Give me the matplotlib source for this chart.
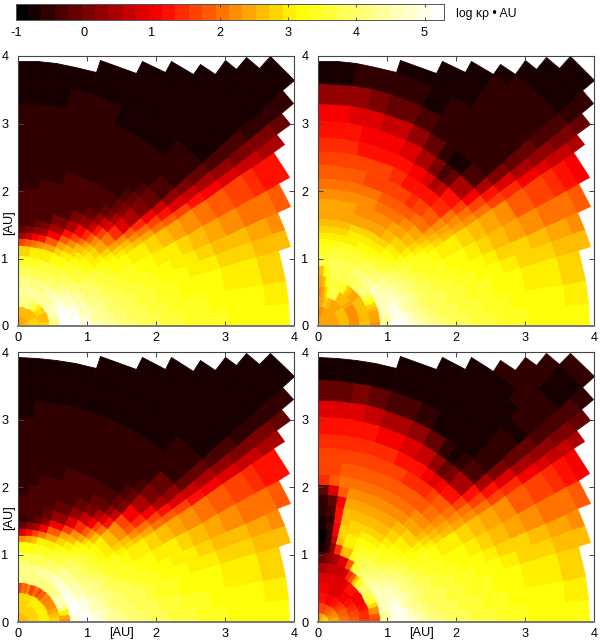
import numpy as np
import matplotlib
matplotlib.use('Agg')
import matplotlib.pyplot as plt
from matplotlib.colors import ListedColormap, BoundaryNorm, LinearSegmentedColormap

plt.rcParams['font.family'] = ['Liberation Sans', 'DejaVu Sans']
plt.rcParams['axes.unicode_minus'] = False

# Grid of the map: angle (deg from the equator) and radius (AU)
theta_edges = [0, 5, 10, 16.7, 20.5, 24.2, 29.3, 34.9, 37.2, 39.7, 42.4, 47.6, 50.3,
               52.7, 55.8, 60.5, 65.5, 73.3, 78, 82, 86, 90]
radius_edges = [0, .15, .3, .45, .6, .75, .9, 1.05, 1.2, 1.3, 1.4, 1.5, 1.6, 1.75, 1.9, 2.05,
                2.2, 2.4, 2.6, 2.8, 3.05, 3.3, 3.6, 3.93, 4.12, 4.32, 4.51, 4.7, 4.95, 5.18, 5.41]

# log kappa rho AU, one list per angular sector, inner radius first
panel_a = [
 [2.7,2.8,2.8,4.0,5.2,5.2,4.9,4.6,4.5,4.4,4.2,4.1,4.0,3.9,3.8,3.7,3.6,3.5,3.4,3.4,3.3,3.3,3.2],
 [2.7,2.8,2.8,4.3,5.2,5.1,4.8,4.5,4.4,4.3,4.1,4.0,3.9,3.8,3.7,3.6,3.5,3.4,3.4,3.3,3.3,3.2,3.1],
 [2.7,2.8,2.7,4.5,5.2,5.0,4.7,4.4,4.3,4.1,4.0,3.9,3.8,3.7,3.6,3.5,3.4,3.3,3.2,3.2,3.1,3.0,2.9],
 [2.7,2.8,2.7,4.6,5.1,4.9,4.6,4.3,4.2,4.0,3.9,3.8,3.7,3.6,3.5,3.4,3.3,3.2,3.1,3.0,2.9,2.8,2.7,2.6],
 [2.7,2.8,2.7,4.6,5.0,4.8,4.5,4.2,4.1,3.9,3.8,3.7,3.6,3.5,3.4,3.3,3.2,3.1,3.0,2.9,2.7,2.6,2.4,2.3],
 [2.7,2.8,2.7,4.7,4.9,4.7,4.4,4.1,4.0,3.8,3.7,3.6,3.5,3.4,3.3,3.2,3.1,3.0,2.8,2.7,2.5,2.3,2.1,2.0,1.8],
 [2.6,2.7,2.8,4.7,4.8,4.6,4.3,4.0,3.8,3.7,3.6,3.4,3.3,3.2,3.1,3.0,2.8,2.6,2.4,2.2,2.0,1.8,1.6,1.4,1.3,1.2],
 [2.6,2.7,2.8,4.6,4.7,4.4,4.1,3.8,3.7,3.6,3.4,3.3,3.2,3.0,2.8,2.6,2.4,2.1,1.9,1.6,1.3,1.0,.8,.7,.6,.5,.4],
 [2.6,2.7,2.9,4.5,4.7,4.4,4.0,3.7,3.6,3.4,3.3,3.2,3.0,2.8,2.6,2.3,2.0,1.7,1.3,.9,.7,.4,.2,.1,.1,0,0,-.1],
 [2.5,2.6,2.9,4.5,4.6,4.3,4.0,3.7,3.5,3.3,3.1,3.0,2.8,2.5,2.2,1.8,1.4,1.0,.6,.3,0,-.2,-.3,-.4,-.4,-.5,-.5,-.6,-.6],
 [2.5,2.6,3.0,4.4,4.6,4.2,3.9,3.6,3.4,3.2,3.0,2.85,2.5,2.0,1.5,.9,.4,0,-.2,-.4,-.5,-.6,-.65,-.7,-.72,-.72,-.75,-.78,-.78,-.78],
 [2.5,2.6,3.2,4.5,4.5,4.1,3.8,3.5,3.3,3.1,2.9,2.6,2.2,1.6,.9,.4,0,-.2,-.4,-.5,-.55,-.6,-.65,-.7,-.72,-.75,-.75,-.78,-.78],
 [2.5,2.6,3.5,4.5,4.4,4.1,3.8,3.4,3.2,3.0,2.7,2.4,1.9,1.2,.6,.1,-.2,-.4,-.5,-.55,-.6,-.65,-.7,-.72,-.75,-.75,-.78,-.78],
 [2.5,2.6,3.8,4.5,4.4,4.0,3.7,3.4,3.1,2.9,2.6,2.1,1.5,.7,.2,-.2,-.4,-.5,-.5,-.6,-.6,-.65,-.7,-.72,-.75,-.75,-.78],
 [2.5,2.6,4.0,4.5,4.3,4.0,3.7,3.3,3.0,2.7,2.3,1.7,1.0,.3,-.1,-.3,-.4,-.5,-.5,-.55,-.6,-.65,-.7,-.72,-.75,-.75],
 [2.4,2.6,4.1,4.5,4.3,3.9,3.6,3.2,2.8,2.4,1.8,1.2,.4,0,-.25,-.35,-.4,-.45,-.5,-.55,-.6,-.65,-.7,-.75,-.75],
 [2.4,2.6,4.2,4.5,4.2,3.9,3.6,3.1,2.5,1.9,1.1,.5,0,-.25,-.3,-.35,-.4,-.45,-.5,-.55,-.6,-.6,-.65,-.75],
 [2.4,2.6,4.3,4.5,4.2,3.9,3.5,3.0,2.2,1.3,.5,0,-.25,-.3,-.35,-.4,-.45,-.5,-.5,-.55,-.6,-.6,-.72],
 [2.4,2.6,4.3,4.5,4.2,3.9,3.5,3.0,2.0,1.0,.2,-.2,-.3,-.3,-.35,-.4,-.45,-.5,-.5,-.55,-.6,-.65,-.72],
 [2.4,2.6,4.3,4.5,4.2,3.9,3.5,2.9,1.8,.7,0,-.3,-.3,-.3,-.35,-.45,-.5,-.5,-.55,-.6,-.6,-.65,-.75],
 [2.4,2.6,4.3,4.5,4.2,3.9,3.5,2.9,1.6,.5,-.1,-.3,-.3,-.3,-.4,-.45,-.5,-.5,-.55,-.6,-.6,-.65,-.75],
]
panel_b = [
 [2.4,2.4,2.7,2.3,2.7,2.3,4.4,5.1,5.0,4.8,4.6,4.4,4.2,4.0,3.9,3.8,3.7,3.6,3.5,3.4,3.3,3.3,3.2],
 [2.4,2.4,2.7,2.3,2.7,2.4,4.5,5.0,4.9,4.7,4.5,4.3,4.1,3.9,3.8,3.7,3.6,3.5,3.4,3.3,3.3,3.2,3.1],
 [2.4,2.4,2.7,2.3,2.7,2.5,4.6,4.9,4.7,4.5,4.3,4.1,3.9,3.8,3.7,3.6,3.5,3.4,3.3,3.2,3.1,3.0,2.9],
 [2.4,2.4,2.7,2.3,2.7,2.6,4.6,4.8,4.6,4.4,4.2,4.0,3.9,3.7,3.6,3.5,3.4,3.3,3.2,3.0,2.9,2.8,2.7,2.6],
 [2.4,2.5,2.7,2.3,2.7,2.9,4.7,4.7,4.5,4.3,4.1,3.9,3.8,3.6,3.5,3.4,3.3,3.2,3.0,2.9,2.8,2.6,2.4,2.3],
 [2.4,2.5,2.7,2.3,2.7,3.2,4.7,4.6,4.4,4.2,4.0,3.8,3.7,3.5,3.4,3.3,3.2,3.0,2.9,2.7,2.5,2.3,2.1,2.0,1.8],
 [2.4,2.5,2.6,2.3,2.6,3.8,4.7,4.5,4.3,4.1,3.9,3.7,3.5,3.4,3.3,3.1,3.0,2.8,2.6,2.4,2.2,1.9,1.6,1.4,1.3,1.1],
 [2.4,2.5,2.6,2.4,2.6,4.1,4.6,4.4,4.1,3.9,3.7,3.6,3.4,3.2,3.1,2.9,2.7,2.5,2.2,2.0,1.7,1.4,1.0,.8,.7,.6,.5],
 [2.4,2.5,2.6,2.4,2.5,4.2,4.5,4.3,4.0,3.8,3.6,3.5,3.3,3.1,2.9,2.7,2.5,2.3,2.0,1.6,1.2,.8,.5,.3,.2,.1,0,-.1],
 [2.4,2.5,2.6,2.4,2.4,4.3,4.4,4.1,3.8,3.6,3.5,3.3,3.1,2.9,2.7,2.5,2.2,2.0,1.6,1.0,.4,0,-.1,-.2,-.3,-.35,-.4,-.45,-.5],
 [2.4,2.5,2.4,2.6,2.5,4.1,4.3,4.0,3.7,3.5,3.3,3.1,2.9,2.7,2.4,2.1,1.8,1.5,1.2,.4,-.3,-.55,-.55,-.6,-.6,-.6,-.6,-.65,-.65,-.65],
 [2.4,2.5,2.4,2.6,2.6,4.0,4.2,3.9,3.6,3.4,3.2,3.0,2.8,2.5,2.3,2.0,1.7,1.3,.7,-.2,-.7,-.6,-.55,-.55,-.6,-.6,-.6,-.65,-.65],
 [2.4,2.5,2.4,2.6,2.7,4.0,4.2,3.8,3.6,3.3,3.1,2.9,2.7,2.4,2.2,1.9,1.6,1.2,.5,-.4,-.7,-.6,-.55,-.55,-.55,-.6,-.6,-.65],
 [2.4,2.5,2.4,2.6,2.8,3.9,4.1,3.8,3.5,3.3,3.0,2.9,2.6,2.4,2.1,1.8,1.5,1.2,.8,0,-.5,-.6,-.55,-.6,-.6,-.6,-.65],
 [2.4,2.4,2.5,2.7,3.4,3.9,4.0,3.7,3.4,3.2,3.0,2.8,2.5,2.3,2.1,1.8,1.6,1.3,1.0,.4,-.1,-.55,-.6,-.65,-.65,-.7],
 [2.4,2.4,2.5,3.6,3.7,3.8,3.9,3.7,3.4,3.2,3.0,2.8,2.5,2.3,2.1,1.9,1.7,1.4,1.2,.9,.2,-.4,-.65,-.7,-.7],
 [2.4,2.4,2.7,3.8,3.7,3.8,3.8,3.6,3.4,3.1,3.0,2.8,2.5,2.3,2.2,2.0,1.7,1.6,1.3,1.1,.6,-.2,-.6,-.7],
 [2.4,2.4,2.8,3.3,3.6,3.8,3.8,3.6,3.4,3.1,2.9,2.7,2.5,2.4,2.2,2.0,1.8,1.6,1.3,1.1,.8,0,-.6],
 [2.4,2.3,2.6,2.8,3.2,3.7,3.8,3.6,3.3,3.1,2.9,2.7,2.5,2.4,2.2,2.1,1.8,1.6,1.4,1.2,.9,.2,-.6],
 [2.4,2.3,2.5,2.4,2.6,3.2,3.7,3.5,3.3,3.1,2.9,2.7,2.5,2.4,2.3,2.1,1.9,1.7,1.4,1.2,1.0,.3,-.7],
 [2.4,2.3,2.5,2.3,2.5,2.7,3.6,3.5,3.3,3.1,2.9,2.7,2.5,2.4,2.3,2.1,1.9,1.6,1.4,1.2,1.0,.3,-.7],
]
panel_c = [
 [2.7,2.9,3.1,2.9,2.3,4.8,5.2,4.9,4.7,4.5,4.4,4.2,4.1,4.0,3.9,3.8,3.7,3.6,3.5,3.4,3.3,3.3,3.2],
 [2.7,2.9,3.1,2.9,2.4,5.0,5.1,4.8,4.6,4.4,4.3,4.1,4.0,3.9,3.8,3.7,3.6,3.5,3.4,3.3,3.3,3.2,3.1],
 [2.7,2.9,3.1,2.7,3.0,5.1,5.0,4.7,4.5,4.3,4.1,4.0,3.9,3.8,3.7,3.5,3.4,3.3,3.2,3.2,3.1,3.0,2.9],
 [2.7,2.9,3.1,2.5,4.0,5.1,4.9,4.6,4.4,4.2,4.0,3.9,3.8,3.6,3.5,3.4,3.3,3.2,3.1,3.0,2.9,2.8,2.7,2.6],
 [2.7,2.9,3.1,2.4,4.4,5.0,4.8,4.5,4.3,4.1,3.9,3.8,3.7,3.5,3.4,3.3,3.2,3.1,3.0,2.9,2.7,2.6,2.4,2.3],
 [2.7,2.9,3.1,2.3,4.6,4.9,4.7,4.4,4.2,4.0,3.8,3.7,3.5,3.4,3.3,3.2,3.1,3.0,2.8,2.7,2.5,2.3,2.1,2.0,1.8],
 [2.6,2.9,3.0,2.3,4.6,4.9,4.6,4.3,4.1,3.9,3.7,3.5,3.4,3.2,3.1,3.0,2.8,2.6,2.4,2.2,2.0,1.8,1.6,1.4,1.3,1.2],
 [2.6,2.9,3.0,2.2,4.5,4.8,4.5,4.2,3.9,3.7,3.6,3.4,3.2,3.0,2.8,2.6,2.4,2.1,1.9,1.6,1.3,1.0,.8,.7,.6,.5,.4],
 [2.6,2.9,3.0,2.2,4.4,4.8,4.5,4.1,3.9,3.6,3.5,3.3,3.1,2.8,2.6,2.3,2.0,1.7,1.3,.9,.6,.4,.2,.1,.1,0,0,-.1],
 [2.6,2.9,3.0,2.1,4.3,4.8,4.5,4.1,3.8,3.6,3.4,3.2,3.0,2.6,2.3,1.9,1.4,1.0,.5,.2,-.1,-.2,-.35,-.4,-.45,-.5,-.5,-.6,-.6],
 [2.6,2.9,3.0,2.2,4.2,4.8,4.5,4.1,3.8,3.6,3.4,3.2,3.0,2.7,2.2,1.6,1.0,.5,.1,-.2,-.45,-.6,-.7,-.75,-.75,-.75,-.78,-.78,-.78,-.78],
 [2.6,2.9,3.0,1.9,4.2,4.7,4.4,4.0,3.7,3.5,3.3,3.0,2.6,2.0,1.3,.6,.1,-.2,-.4,-.5,-.55,-.6,-.7,-.75,-.75,-.75,-.78,-.78,-.78],
 [2.6,2.8,3.0,1.8,4.2,4.6,4.3,3.9,3.6,3.4,3.2,2.8,2.3,1.6,.8,.2,-.2,-.4,-.5,-.55,-.6,-.65,-.7,-.75,-.75,-.75,-.78,-.78],
 [2.6,2.8,3.0,2.0,4.3,4.6,4.2,3.8,3.5,3.3,3.0,2.5,1.9,1.1,.4,-.1,-.35,-.45,-.5,-.55,-.6,-.65,-.7,-.75,-.75,-.78,-.78],
 [2.6,2.8,3.0,1.7,4.3,4.5,4.1,3.7,3.4,3.1,2.7,2.2,1.4,.6,.1,-.2,-.35,-.45,-.5,-.55,-.6,-.65,-.7,-.75,-.75,-.78],
 [2.6,2.8,3.0,2.1,4.3,4.4,4.0,3.6,3.3,2.9,2.4,1.7,.8,.2,-.15,-.3,-.4,-.45,-.5,-.55,-.6,-.65,-.7,-.75,-.78],
 [2.6,2.8,2.9,1.6,4.3,4.4,3.9,3.5,3.1,2.5,1.8,1.0,.3,-.1,-.25,-.35,-.4,-.45,-.5,-.55,-.6,-.65,-.7,-.78],
 [2.6,2.8,2.9,2.2,4.3,4.3,3.9,3.4,3.0,2.1,1.1,.3,-.1,-.3,-.3,-.4,-.45,-.5,-.5,-.55,-.6,-.65,-.72],
 [2.6,2.8,2.9,1.8,4.3,4.3,3.8,3.3,2.7,1.6,.5,-.1,-.3,-.35,-.35,-.4,-.45,-.5,-.5,-.55,-.6,-.65,-.75],
 [2.6,2.8,2.9,2.0,4.3,4.2,3.8,3.2,2.5,1.2,.2,-.3,-.35,-.35,-.35,-.45,-.5,-.5,-.55,-.6,-.6,-.7,-.75],
 [2.6,2.8,2.9,1.6,4.3,4.2,3.8,3.2,2.3,.9,-.1,-.5,-.35,-.35,-.45,-.5,-.5,-.55,-.6,-.6,-.65,-.65,-.75],
]
panel_d = [
 [3.0,2.5,2.2,1.9,1.6,1.6,4.4,5.0,5.0,4.8,4.6,4.4,4.2,4.0,3.9,3.8,3.7,3.6,3.5,3.4,3.3,3.3,3.2],
 [3.0,2.5,2.1,1.8,1.5,1.8,4.5,5.0,4.9,4.7,4.5,4.3,4.1,3.9,3.8,3.7,3.6,3.5,3.4,3.3,3.3,3.2,3.1],
 [3.0,2.4,2.0,1.7,1.4,2.2,4.6,4.9,4.7,4.5,4.3,4.1,3.9,3.8,3.7,3.6,3.5,3.4,3.3,3.2,3.1,3.0,2.9],
 [2.9,2.4,1.9,1.6,1.3,2.8,4.7,4.8,4.6,4.4,4.2,4.0,3.9,3.7,3.6,3.5,3.4,3.3,3.2,3.0,2.9,2.8,2.7,2.6],
 [2.9,2.3,1.8,1.5,1.2,3.4,4.7,4.7,4.5,4.3,4.1,3.9,3.8,3.6,3.5,3.4,3.3,3.2,3.0,2.9,2.8,2.6,2.4,2.3],
 [2.9,2.3,1.8,1.4,1.1,3.7,4.7,4.6,4.4,4.2,4.0,3.8,3.7,3.5,3.4,3.3,3.2,3.0,2.9,2.7,2.5,2.3,2.1,2.0,1.8],
 [2.8,2.2,1.7,1.3,1.0,3.8,4.6,4.5,4.3,4.1,3.9,3.7,3.5,3.4,3.3,3.1,3.0,2.8,2.6,2.4,2.2,1.9,1.6,1.4,1.3,1.1],
 [2.8,2.2,1.6,1.2,1.0,4.0,4.5,4.3,4.1,3.9,3.7,3.5,3.3,3.2,3.0,2.9,2.7,2.5,2.3,2.0,1.7,1.4,1.0,.8,.7,.6,.5],
 [2.8,2.1,1.6,1.2,1.1,4.1,4.4,4.2,4.0,3.8,3.6,3.4,3.2,3.1,2.9,2.7,2.5,2.3,2.0,1.7,1.2,.8,.5,.3,.2,.1,0,-.1],
 [2.7,2.1,1.5,1.1,1.2,4.1,4.3,4.1,3.9,3.7,3.5,3.3,3.1,2.9,2.7,2.5,2.3,2.0,1.7,1.2,.5,0,-.1,-.2,-.3,-.3,-.4,-.4,-.5],
 [2.7,2.0,1.4,1.0,1.3,3.4,4.2,4.0,3.7,3.5,3.4,3.2,3.0,2.8,2.5,2.3,2.0,1.8,1.3,.5,-.3,-.6,-.6,-.65,-.6,-.6,-.6,-.65,-.65,-.6],
 [2.7,2.0,1.3,1.0,1.2,2.9,4.1,3.9,3.6,3.4,3.2,3.1,2.9,2.7,2.4,2.2,1.9,1.6,1.0,0,-.6,-.7,-.7,-.7,-.65,-.6,-.6,-.6,-.6],
 [2.7,1.9,1.3,1.0,1.2,2.4,4.0,3.9,3.6,3.4,3.2,3.0,2.8,2.6,2.3,2.1,1.8,1.5,.8,-.2,-.7,-.75,-.75,-.75,-.7,-.65,-.6,-.6],
 [2.6,1.9,1.2,.9,1.0,1.8,3.9,3.8,3.5,3.3,3.1,2.9,2.7,2.5,2.3,2.0,1.8,1.5,1.1,.2,-.5,-.75,-.78,-.78,-.75,-.7,-.6],
 [2.6,1.8,1.2,.9,.9,1.4,3.5,3.7,3.5,3.2,3.0,2.8,2.7,2.4,2.2,2.0,1.8,1.5,1.2,.6,-.2,-.7,-.78,-.78,-.78,-.7],
 [2.6,1.8,1.1,.9,.8,.9,1.9,3.5,3.4,3.2,3.0,2.8,2.6,2.4,2.2,2.0,1.8,1.6,1.3,.9,.2,-.5,-.78,-.78,-.78],
 [2.5,1.7,1.1,.9,.8,.7,.9,2.6,3.1,3.1,2.9,2.8,2.6,2.4,2.2,2.0,1.8,1.6,1.4,1.1,.5,-.3,-.7,-.78],
 [2.5,1.7,1.2,1.0,.8,.6,.5,1.5,2.6,2.8,2.8,2.7,2.6,2.4,2.2,2.0,1.8,1.6,1.4,1.2,.7,-.1,-.7],
 [2.4,1.7,1.2,1.0,.8,.6,.3,.3,.6,1.0,1.1,1.2,1.2,1.0,1.9,2.0,1.8,1.6,1.5,1.2,.8,0,-.65],
 [2.3,1.7,1.3,1.1,.9,.5,.1,-.5,-.6,-.6,-.4,-.5,-.3,-.1,.8,1.8,1.7,1.6,1.5,1.2,.8,-.1,-.7],
 [2.2,1.7,1.3,1.1,.9,.4,-.1,-.7,-.95,-.85,-.7,-.7,-.6,-.5,-.2,1.4,1.6,1.6,1.4,1.2,.8,-.2,-.75],
]

axis_ticks = [0, 1, 2, 3, 4]
colorbar_ticks = [-1, 0, 1, 2, 3, 4, 5]
n_levels = 32
v_min, v_max = -1.0, 5.29

W, H = 600, 641
fig = plt.figure(figsize=(W / 100, H / 100), dpi=100)


def box(x0, y0, x1, y1):
    return fig.add_axes([x0 / W, 1 - y1 / H, (x1 - x0) / W, (y1 - y0) / H])


base = LinearSegmentedColormap.from_list('bryw', ['#000000', '#ff0000', '#ffff00', '#ffffff'])
cmap = ListedColormap(base(np.linspace(0, 1, n_levels)))
levels = np.linspace(v_min, v_max, n_levels + 1)
norm = BoundaryNorm(levels, n_levels)

th = np.radians(theta_edges)
rr = np.array(radius_edges)
TH, RR = np.meshgrid(th, rr, indexing='ij')
X, Y = RR * np.cos(TH), RR * np.sin(TH)

FS = 9.2
frames = [(18.3, 56, 294, 326), (318.3, 56, 594, 326), (18.3, 352.3, 294, 622.3), (318.3, 352.3, 594, 622.3)]
for rays, frame in zip([panel_a, panel_b, panel_c, panel_d], frames):
    ax = box(*frame)
    C = np.full((len(rays), len(radius_edges) - 1), np.nan)
    for i, ray in enumerate(rays):
        C[i, :len(ray)] = ray
    ax.pcolormesh(X, Y, np.ma.masked_invalid(C), cmap=cmap, norm=norm,
                  edgecolors='face', linewidth=0.6, antialiased=True)
    ax.set_xlim(0, 4)
    ax.set_ylim(0, 4)
    ax.set_xticks(axis_ticks)
    ax.set_yticks(axis_ticks)
    ax.tick_params(direction='in', top=True, right=True, length=3.5, width=0.7,
                   labelsize=FS, color='#444444', pad=4)
    ax.tick_params(axis='y', pad=7)
    for s in ax.spines.values():
        s.set_linewidth(0.8)
        s.set_color('#444444')
    ax.spines['bottom'].set_linewidth(1.4)
    ax.spines['bottom'].set_color('#777777')

for y in (223, 518):
    fig.text(9 / W, 1 - y / H, '[AU]', rotation=90, ha='center', va='center', fontsize=FS)
for x in (122, 422):
    fig.text(x / W, 1 - 633 / H, '[AU]', ha='center', va='center', fontsize=FS)

cb = box(15.7, 4, 444.3, 20)
cb.pcolormesh(levels, [0, 1], ((levels[:-1] + levels[1:]) / 2)[None, :], cmap=cmap, norm=norm,
              edgecolors='face', linewidth=0.3)
cb.set_xlim(v_min, v_max)
cb.set_yticks([])
cb.set_xticks(colorbar_ticks)
cb.tick_params(direction='in', top=True, length=2.5, width=0.6, labelsize=FS, color='#333333', pad=5)
for s in cb.spines.values():
    s.set_linewidth(0.7)
    s.set_color('#555555')
fig.text(456 / W, 1 - 13.5 / H, 'log κρ • AU', ha='left', va='center', fontsize=8.8)

fig.savefig('out.png', dpi=100)
